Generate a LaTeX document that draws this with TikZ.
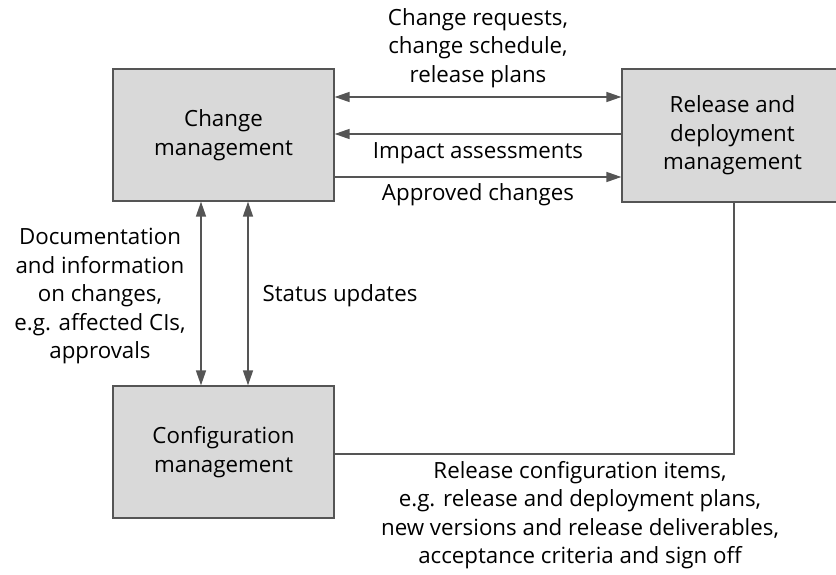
\documentclass[tikz,border=0pt]{standalone}
\usepackage{fontspec}
\setmainfont{Open Sans}
\usetikzlibrary{arrows.meta}
\definecolor{boxgray}{HTML}{D9D9D9}
\definecolor{linegray}{HTML}{555555}
\tikzset{
  procbox/.style={draw=linegray, fill=boxgray, line width=1.3pt, minimum width=221pt, minimum height=132pt, inner sep=0pt, align=center},
  flow/.style={draw=linegray, line width=1.6pt, -{Triangle[length=15pt,width=10pt]}},
  flowboth/.style={flow, {Triangle[length=15pt,width=10pt]}-{Triangle[length=15pt,width=10pt]}},
  lbl/.style={align=center, inner sep=0pt}
}
\begin{document}
\begin{tikzpicture}[x=1pt, y=-1pt, font=\fontsize{22.3}{28.5}\selectfont, line join=miter]
  \useasboundingbox (0,0) rectangle (836,575);
  \clip (0,0) rectangle (836,575);
  % processes
  \node[procbox] (change) at (223.5,135) {Change\\management};
  \node[procbox, minimum height=133pt] (release) at (732.5,135.5) {Release and\\deployment\\management};
  \node[procbox] (config) at (223.5,452) {Configuration\\management};
  % change <-> release
  \draw[flowboth] (change.east |- 0,97) -- (release.west |- 0,97);
  \draw[flow] (release.west |- 0,134) -- (change.east |- 0,134);
  \draw[flow] (change.east |- 0,177) -- (release.west |- 0,177);
  % change <-> config
  \draw[flowboth] (change.south -| 201,0) -- (config.north -| 201,0);
  \draw[flowboth] (change.south -| 248,0) -- (config.north -| 248,0);
  % config -- release
  \draw[draw=linegray, line width=1.6pt] (config.east |- 0,454) -| (release.south -| 734,0);
  % labels
  \node[lbl] (reqlbl) at (478,48) {Change requests,\\change schedule,\\release plans};
  \node[lbl] (implbl) at (478,153) {Impact assessments};
  \node[lbl] (applbl) at (478,195) {Approved changes};
  \node[lbl] (doclbl) at (100,296) {Documentation\\and information\\on changes,\\e.g. affected CIs,\\approvals};
  \node[lbl] (statlbl) at (340,296) {Status updates};
  \node[lbl] (rellbl) at (580,515) {Release configuration items,\\e.g. release and deployment plans,\\new versions and release deliverables,\\acceptance criteria and sign off};
\end{tikzpicture}
\end{document}
